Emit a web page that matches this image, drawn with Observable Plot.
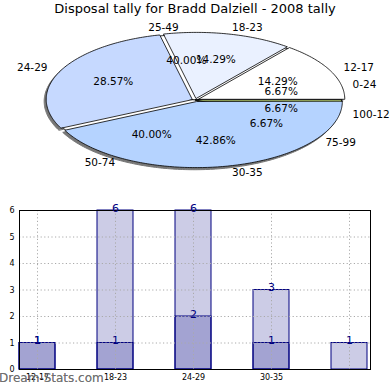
<!DOCTYPE html>
<html>
<head>
<meta charset="utf-8">
<script src="https://cdn.jsdelivr.net/npm/d3@7"></script>
<script src="https://cdn.jsdelivr.net/npm/@observablehq/plot@0.6"></script>
<style>
  html, body { margin: 0; padding: 0; background: #fff; }
  #wrap { position: relative; width: 390px; height: 390px; overflow: hidden; font-family: "DejaVu Sans", sans-serif; }
  #title { position: absolute; left: 0; top: 1px; width: 390px; text-align: center; font-size: 13px; color: #000; z-index: 2; }
  #pie { position: absolute; left: 0; top: 0; }
  #bars { position: absolute; left: 0; top: 195px; }
  #mark { position: absolute; left: -1px; top: 371px; font-size: 12px; font-weight: normal; color: rgba(105,105,105,0.8); z-index: 3; text-shadow: 0 0 0.6px rgba(105,105,105,0.8); }
  svg { overflow: visible; }
</style>
</head>
<body>
<div id="wrap">
  <div id="title">Disposal tally for Bradd Dalziell - 2008 tally</div>
  <div id="pie"></div>
  <div id="bars"></div>
  <div id="mark">Dream-Stats.com</div>
</div>
<script>
// ---- data ----
const ageGroups = ["12-17", "18-23", "24-29", "30-35"];
const ageGroupValues = [1, 1, 2, 3];
const disposalRanges = ["0-24", "25-49", "50-74", "75-99", "100-124"];
const disposalRangeValues = [1, 6, 6, 1, 1];

const barTickLabels = ["12-17", "18-23", "24-29", "30-35", ""];
const barOuterValues = [1, 6, 6, 3, 1];
const barInnerValues = [1, 1, 2, 1, 0];

// ---- styles ----
const ageColors = ["#ffffff", "#eaf1ff", "#c6d9ff", "#b5d3ff"];
const disposalColors = ["#6e6e6e", "#ffffff", "#ffffff", "#ffffff", "#c8e07a"];

function wedges(names, values, explode) {
  const total = d3.sum(values);
  let a = 0;
  return names.map((name, i) => {
    const span = values[i] / total * 360;
    const a0 = a, a1 = a + span;
    a = a1;
    const mid = (a0 + a1) / 2 * Math.PI / 180;
    return {name, value: values[i], a0, a1, mid,
      ox: explode * Math.cos(mid), oy: explode * Math.sin(mid),
      pct: (values[i] / total * 100).toFixed(2) + "%"};
  });
}
function outline(w, dx = 0, dy = 0) {
  const pts = [{x: w.ox + dx, y: w.oy + dy}];
  const n = Math.max(2, Math.ceil(w.a1 - w.a0));
  for (let k = 0; k <= n; k++) {
    const t = (w.a0 + (w.a1 - w.a0) * k / n) * Math.PI / 180;
    pts.push({x: w.ox + dx + Math.cos(t), y: w.oy + dy + Math.sin(t)});
  }
  return pts;
}

const ages = wedges(ageGroups, ageGroupValues, 0.025);
const disp = wedges(disposalRanges, disposalRangeValues, 0);

const labelPos = (w, r) => ({x: w.ox + r * Math.cos(w.mid), y: w.oy + r * Math.sin(w.mid)});
const allW = [...disp, ...ages];
const outerLabels = allW.map(w => ({...labelPos(w, 1.1), text: w.name, right: Math.cos(w.mid) >= 0}));
const pctLabels = allW.map(w => ({...labelPos(w, 0.6), text: w.pct}));

const pieMarks = [];
ages.forEach(w => pieMarks.push(Plot.line(outline(w, -0.014, -0.032), {x: "x", y: "y", curve: "linear-closed", fill: "#777", stroke: "#777", strokeWidth: 1})));
disp.forEach((w, i) => pieMarks.push(Plot.line(outline(w), {x: "x", y: "y", curve: "linear-closed", fill: disposalColors[i], stroke: "#000", strokeWidth: 0.8})));
ages.forEach((w, i) => pieMarks.push(Plot.line(outline(w), {x: "x", y: "y", curve: "linear-closed", fill: ageColors[i], stroke: "#000", strokeWidth: 0.8})));
pieMarks.push(Plot.text(outerLabels.filter(d => d.right), {x: "x", y: "y", text: "text", textAnchor: "start", fill: "#000"}));
pieMarks.push(Plot.text(outerLabels.filter(d => !d.right), {x: "x", y: "y", text: "text", textAnchor: "end", fill: "#000"}));
pieMarks.push(Plot.text(pctLabels, {x: "x", y: "y", text: "text", textAnchor: "middle", fill: "#000"}));

const pie = Plot.plot({
  width: 390, height: 195, margin: 0,
  x: {domain: [-1, 1], range: [49, 341], axis: null},
  y: {domain: [-1, 1], range: [165.5, 33.5], axis: null},
  style: {fontFamily: "DejaVu Sans", fontSize: "10.5px", background: "transparent", overflow: "visible"},
  marks: pieMarks
});
document.getElementById("pie").appendChild(pie);

// ---- bar chart ----
const idx = d3.range(barTickLabels.length);
const bars = Plot.plot({
  width: 390, height: 195,
  marginTop: 15, marginBottom: 21, marginLeft: 19, marginRight: 20,
  x: {type: "band", domain: idx, paddingInner: 0.543, paddingOuter: 0, align: 0, axis: null},
  y: {domain: [0, 6], axis: null},
  style: {fontFamily: "DejaVu Sans", fontSize: "8px", background: "transparent", overflow: "visible"},
  marks: [
    Plot.barY(idx, {x: i => i, y: i => barOuterValues[i], fill: "#000080", fillOpacity: 0.2, stroke: "#000080", strokeWidth: 1}),
    Plot.barY(idx.filter(i => barInnerValues[i] > 0), {x: i => i, y: i => barInnerValues[i], fill: "#000080", fillOpacity: 0.2, stroke: "#000080", strokeWidth: 1}),
    Plot.gridX(idx, {stroke: "#aaa", strokeOpacity: 1, strokeDasharray: "1.2,2.4", strokeWidth: 1}),
    Plot.gridY(d3.range(0, 7), {stroke: "#aaa", strokeOpacity: 1, strokeDasharray: "1.2,2.4", strokeWidth: 1}),
    Plot.frame({stroke: "#000", strokeWidth: 1}),
    Plot.axisY(d3.range(0, 7), {tickSize: 0, tickPadding: 5, label: null, fill: "#000"}),
    Plot.axisX(idx, {tickSize: 0, tickPadding: 5, label: null, tickFormat: i => barTickLabels[i], fill: "#000"}),
    Plot.text(idx, {x: i => i, y: i => barOuterValues[i], text: i => String(barOuterValues[i]), fill: "#000080", fontSize: 11, lineAnchor: "bottom", dy: 1}),
    Plot.text(idx.filter(i => barInnerValues[i] > 0), {x: i => i, y: i => barInnerValues[i], text: i => String(barInnerValues[i]), fill: "#000080", fontSize: 11, lineAnchor: "bottom", dy: 1})
  ]
});
document.getElementById("bars").appendChild(bars);
</script>
</body>
</html>
